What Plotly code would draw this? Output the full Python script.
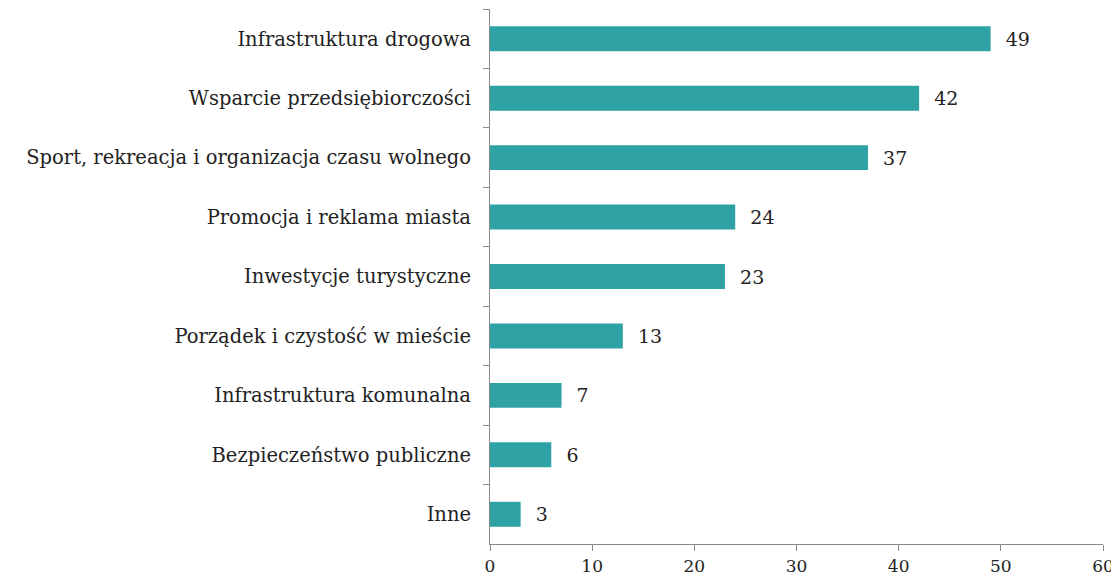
import plotly.graph_objects as go

categories = [
    "Infrastruktura drogowa",
    "Wsparcie przedsiębiorczości",
    "Sport, rekreacja i organizacja czasu wolnego",
    "Promocja i reklama miasta",
    "Inwestycje turystyczne",
    "Porządek i czystość w mieście",
    "Infrastruktura komunalna",
    "Bezpieczeństwo publiczne",
    "Inne",
]
values = [49, 42, 37, 24, 23, 13, 7, 6, 3]
x_ticks = [0, 10, 20, 30, 40, 50, 60]

FONT = "DejaVu Serif"
BAR = "#2fa2a5"
AXIS = "#8a8a8a"

fig = go.Figure(go.Bar(
    x=values,
    y=categories,
    orientation="h",
    marker=dict(color=BAR, line=dict(width=0)),
    text=["  " + str(v) for v in values],
    textposition="outside",
    cliponaxis=False,
    textfont=dict(family=FONT, size=19, color="#222"),
    width=0.42,
))

fig.update_layout(
    width=1111, height=574,
    margin=dict(l=482, r=16, t=1, b=38),
    paper_bgcolor="white", plot_bgcolor="white",
    showlegend=False,
    font=dict(family=FONT, size=19, color="#222"),
)
fig.update_yaxes(
    autorange="reversed", automargin=False,
    showline=True, linecolor=AXIS, linewidth=1.2,
    ticks="outside", ticklen=6, tickcolor=AXIS, tickson="boundaries",
    showgrid=False, ticklabelstandoff=14,
    tickfont=dict(family=FONT, size=19.5, color="#222"),
)
fig.update_xaxes(
    range=[0, 60], tickvals=x_ticks, automargin=False,
    showline=True, linecolor=AXIS, linewidth=1.2,
    ticks="outside", ticklen=6, tickcolor=AXIS,
    showgrid=False, zeroline=False, ticklabelstandoff=0,
    tickfont=dict(family=FONT, size=17, color="#222"),
)

fig.write_html("out.html")
